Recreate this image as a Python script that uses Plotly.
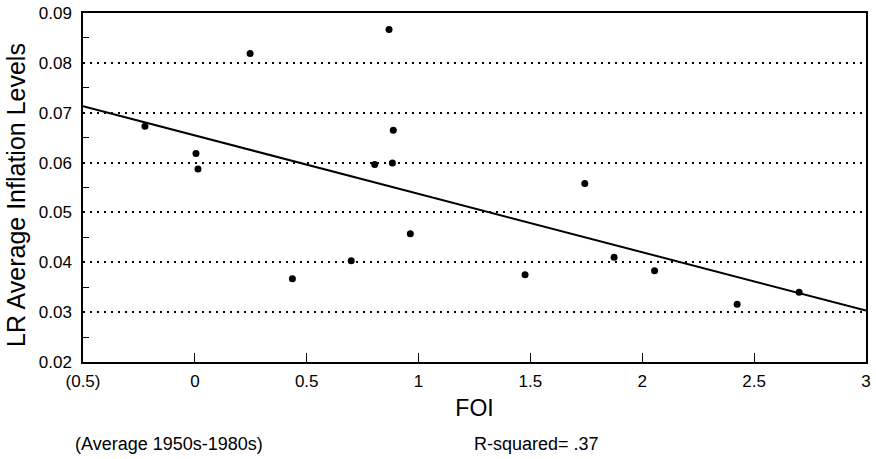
import plotly.graph_objects as go

# Data
foi = [-0.223, 0.005, 0.014, 0.247, 0.868, 0.887, 0.804, 0.883, 1.743,
       0.436, 0.699, 0.963, 1.476, 1.874, 2.055, 2.424, 2.701]
inflation = [0.0673, 0.0618, 0.0587, 0.0819, 0.0867, 0.0665, 0.0596, 0.0599, 0.0558,
             0.0367, 0.0403, 0.0457, 0.0375, 0.0410, 0.0383, 0.0316, 0.0340]

fit_x = [-0.5, 3.0]
fit_y = [0.0713, 0.0303]

x_tickvals = [-0.5, 0, 0.5, 1, 1.5, 2, 2.5, 3]
x_ticktext = ["(0.5)", "0", "0.5", "1", "1.5", "2", "2.5", "3"]
y_tickvals = [0.02, 0.03, 0.04, 0.05, 0.06, 0.07, 0.08, 0.09]
y_minor = [0.025, 0.035, 0.045, 0.055, 0.065, 0.075, 0.085]

FONT = "Liberation Sans, Arial, sans-serif"
W, H = 876, 459
L, R, T, B = 83, 10, 13, 97
PW, PH = W - L - R, H - T - B

fig = go.Figure()
fig.add_trace(go.Scatter(x=fit_x, y=fit_y, mode="lines",
                         line=dict(color="black", width=2), showlegend=False))
fig.add_trace(go.Scatter(x=foi, y=inflation, mode="markers",
                         marker=dict(color="black", size=7), showlegend=False))

fig.update_layout(
    width=W, height=H,
    margin=dict(l=L, r=R, t=T, b=B),
    paper_bgcolor="white", plot_bgcolor="white",
    font=dict(family=FONT, color="black"),
    xaxis=dict(
        range=[-0.5, 3.0], tickvals=x_tickvals, ticktext=x_ticktext,
        showgrid=False, zeroline=False, automargin=False,
        showline=True, mirror=True, linecolor="black", linewidth=1.5,
        ticks="inside", ticklen=9, tickcolor="black", tickwidth=1.2,
        tickfont=dict(size=17), ticklabelstandoff=3, ticklabeloverflow="allow",
        title=dict(text="FOI", font=dict(size=23), standoff=10),
    ),
    yaxis=dict(
        range=[0.02, 0.09], tickvals=y_tickvals, tickformat=".2f",
        showgrid=True, gridcolor="black", griddash="1.5px,5.5px", gridwidth=1.5,
        zeroline=False, automargin=False,
        showline=True, mirror=True, linecolor="black", linewidth=1.5,
        ticks="", tickfont=dict(size=17), ticklabelstandoff=6, ticklabeloverflow="allow",
        minor=dict(tickvals=y_minor, ticks="inside", ticklen=6, tickcolor="black",
                   tickwidth=1.2, showgrid=False),
    ),
    annotations=[
        dict(text="LR Average Inflation Levels", xref="paper", yref="paper",
             x=(16 - L) / PW, y=1 - (195 - T) / PH, xanchor="center", yanchor="middle",
             textangle=-90, showarrow=False, font=dict(size=25)),
        dict(text="(Average 1950s-1980s)", xref="paper", yref="paper",
             x=(73 - L) / PW, y=-(444 - T - PH) / PH, xanchor="left", yanchor="middle",
             showarrow=False, font=dict(size=18)),
        dict(text="R-squared= .37", xref="paper", yref="paper",
             x=(472 - L) / PW, y=-(444 - T - PH) / PH, xanchor="left", yanchor="middle",
             showarrow=False, font=dict(size=18)),
    ],
)

fig.write_html(
    "out.html",
    config={"displayModeBar": False},
    post_script="document.body.style.margin='0';document.body.style.overflow='hidden';",
)
